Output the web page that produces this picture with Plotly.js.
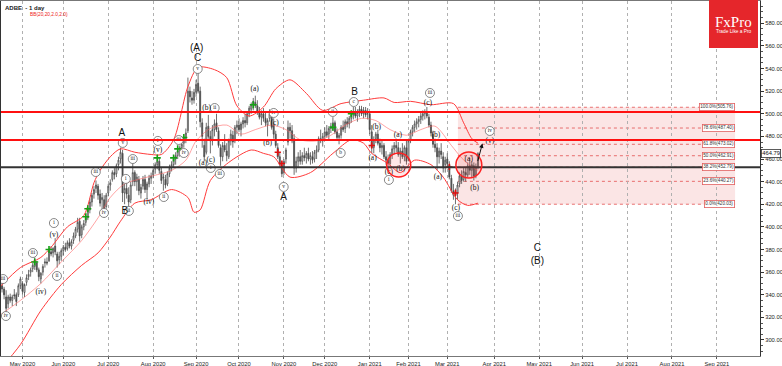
<!DOCTYPE html>
<html><head><meta charset="utf-8">
<script src="https://cdn.plot.ly/plotly-3.0.1.min.js"></script>
<style>html,body{margin:0;padding:0;background:#fff}#chart{width:782px;height:366px}</style>
</head><body><div id="chart"></div>
<script>
// ---------------- DATA ----------------
const symbolTitle = 'ADBE  - 1 day';
const indicatorTitle = 'BB(20,20,2.0,2.0)';
const firstBarDate = '2020-04-16';
const holidays = ['2020-05-25','2020-07-03','2020-09-07','2020-11-26','2020-12-25','2021-01-01','2021-01-18','2021-02-15'];

const open = [340,348,345,338,332,338,335,340,340,340,348,350,342,351,356,360,363,365,368,362,354,360,368,369,370,378,377,383,376,371,374,379,382,381,386,383,388,392,398,405,393,400,404,408,415,422,429,434,436,429,424,424,418,430,437,442,448,447,455,460,465,430,434,428,424,440,448,440,442,430,436,442,433,438,443,446,451,455,458,449,443,442,438,447,452,455,460,463,467,470,474,478,485,520,514,512,519,527,520,492,472,466,489,480,476,486,492,485,470,462,472,467,462,476,481,476,488,490,486,491,494,492,500,504,508,510,507,501,497,500,496,490,496,500,490,482,470,462,454,448,460,475,488,485,478,452,458,462,458,463,461,465,460,462,460,466,468,478,476,480,484,482,487,489,492,484,479,481,488,487,493,491,496,499,502,498,501,504,500,503,500,500,484,470,478,482,474,470,472,462,459,456,464,469,472,470,464,467,462,470,460,476,484,488,491,493,495,498,500,502,497,490,482,473,470,462,467,462,455,460,455,443,432,428,430,438,445,442,448,446,454,450,454,446,453];
const high = [352,355,347,344,340,341,340,345,342,350,356,352,350,358,362,364,368,373,370,364,360,367,372,373,381,383,382,390,378,378,381,384,386,388,390,389,395,400,408,408,402,406,410,417,425,430,436,441,438,433,430,428,430,438,442,450,452,456,462,470,468,438,440,435,440,457,450,447,445,438,445,446,440,446,448,452,457,462,461,453,447,446,449,455,458,462,466,470,472,475,481,487,532,524,520,522,530,536,524,496,478,492,499,485,490,495,500,488,473,475,482,474,478,486,485,490,494,496,493,497,500,502,507,510,514,516,512,506,503,505,502,496,504,502,496,485,474,466,458,460,470,494,492,490,482,462,466,468,466,470,467,470,466,467,468,472,480,486,483,488,490,489,492,497,494,487,483,490,494,495,497,498,502,506,506,504,507,507,506,506,505,502,490,480,484,486,478,476,474,467,464,466,472,475,478,475,470,474,472,476,478,486,490,494,496,498,501,503,504,506,500,493,485,478,474,470,474,466,462,465,458,446,438,434,440,448,450,452,452,457,461,458,457,456,466];
const low = [336,342,336,324,328,333,330,336,330,338,345,340,338,348,353,356,360,362,360,352,350,357,364,366,369,374,373,375,364,367,370,375,378,379,381,380,385,390,395,387,390,397,401,406,412,418,425,430,424,418,415,408,416,427,432,440,442,444,450,456,422,420,425,418,421,436,436,432,428,425,433,430,424,435,438,443,447,451,447,438,432,434,436,444,449,452,455,460,462,466,470,474,483,510,508,509,515,518,488,470,458,464,478,465,472,480,484,470,454,458,466,458,460,472,470,474,482,484,480,487,488,490,497,500,503,505,499,495,490,493,489,480,493,486,478,470,460,452,444,446,456,472,478,474,446,448,452,455,455,458,456,458,455,456,457,460,466,474,471,476,479,477,483,485,482,476,473,478,484,483,488,487,492,495,496,493,497,498,496,497,495,482,465,465,474,472,466,464,460,455,450,453,460,464,466,462,456,460,458,455,458,474,480,484,486,488,491,494,495,496,488,480,470,466,450,456,460,448,448,452,442,430,424,420,424,435,438,440,440,444,446,444,441,443,451];
const close = [349,345,340,328,338,335,338,339,334,348,354,343,349,355,358,362,366,370,362,356,359,365,369,368,379,376,381,378,370,374,379,382,380,386,383,387,392,398,404,392,400,403,408,415,422,428,433,437,428,421,426,416,428,436,439,448,446,454,459,466,430,434,429,422,437,448,440,444,432,435,442,433,438,443,445,450,455,458,450,441,444,437,447,452,455,460,463,467,470,473,478,483,520,515,512,519,526,520,493,480,462,488,480,476,486,491,486,472,462,472,468,463,476,482,475,488,490,486,491,494,492,500,505,508,511,507,502,497,500,496,492,494,500,488,482,472,462,455,447,458,468,488,485,476,452,458,462,458,463,461,465,460,463,459,466,468,478,476,480,484,481,487,489,492,484,479,481,488,486,493,491,496,499,502,498,501,504,500,503,499,500,486,470,477,482,474,470,472,462,459,456,464,469,472,470,464,467,462,470,458,476,484,488,491,493,495,498,500,502,498,490,483,473,470,462,467,464,452,459,456,444,432,428,431,437,445,441,449,446,454,450,455,445,453,464.79];

// Bollinger band values (bar index -> price)
const upperIdx = [0,10,20,25,33,41,46,49,54,59,66,74,79,85,92,97,105,111,116,122,129,135,142,150,158,167,178,188,193,201,211,222,227,231,234];
const upperVal = [347,364,373,382,400,410,439,450,462,469,466,464,464,477,524,541,539,532,507,498,506,522,530,518,503,509,512,514,510,511,508,509,492,478,474];
const middleIdx = [0,10,20,30,40,48,54,61,70,84,91,96,103,111,118,125,133,140,147,155,162,169,177,184,191,199,206,213,221,226,231,234];
const middleVal = [322,335,350,369,388,408,426,438,443,450,459,476,487,490,482,486,490,486,477,476,481,490,496,494,486,481,486,489,472,461,453,450];
const lowerIdx = [0,10,20,30,40,48,54,59,66,74,84,92,95,98,103,112,123,129,134,142,152,163,172,178,182,190,196,203,211,217,224,229,234];
const lowerVal = [274,296,326,349,366,377,391,405,421,424,433,426,413,415,441,457,468,465,462,444,448,465,477,474,465,456,448,459,455,444,424,419,421];

// Signal markers
const greenIdx = [17,24,42,43,77,85,87,90,124,163,172];
const greenVal = [369,380,409,416,461,461,469,479,508,488,500];
const redIdx = [136,138,182,220,223];
const redVal = [466,456,472,453,430];

// Horizontal levels
const redLevels = [501.6, 476.8];
const blackLevels = [452.8];
const lastPrice = 464.79;

// Fibonacci retracement
const fibPct = [100.0, 78.6, 61.8, 50.0, 38.2, 23.6, 0.0];
const fibVal = [505.76, 487.40, 473.02, 462.91, 452.79, 440.27, 420.03];

// Wave labels
const circText = ['iii','iv','iii','i','ii','iii','iv','v','i','ii','iii','i','ii','iii','iv','v','i','ii','iii','iv','v','ii','b','c','i','iii','iii','iv'];
const circIdx = [1.5,2.9,16.1,26.4,27.9,46.9,50.9,60.1,61.6,63.1,65.0,77.3,80.2,87.5,90.0,96.8,103.2,105.1,107.6,134.0,138.9,162.9,166.8,173.2,190.4,210.5,224.2,239.8];
const circVal = [353.9,321.2,376.9,403.4,356.6,448.5,412.3,474.2,442.4,414.1,460.0,476.0,426.4,476.8,465.3,539.6,452.1,505.1,446.8,500.7,435.3,501.6,465.3,510.4,441.5,518.4,409.6,484.8];
const parenText = ['(iv)','(v)','(iv)','(v)','(a)','(b)','(c)','(a)','(b)','(c)','(a)','(b)','(c)','(a)','(b)','(c)','(b)','(a)','(c)','(a)','(b)','(v)'];
const parenIdx = [20.0,26.4,72.9,77.3,99.3,101.2,103.2,124.7,131.0,134.5,182.4,184.4,190.4,194.8,196.2,209.5,213.4,214.4,223.2,229.5,232.4,239.8];
const parenVal = [342.4,392.8,422.0,468.0,456.5,505.1,459.2,521.9,474.2,491.9,460.9,488.3,448.5,481.3,451.2,509.5,481.3,444.1,416.7,460.0,434.4,476.0];
const bigText = ['A','B','(A)','C','A','B','C','(B)'];
const bigIdx = [59.7,61.1,96.3,96.8,138.9,173.6,263.1,263.1];
const bigVal = [483.0,413.2,557.3,548.5,426.4,518.4,380.5,369.8];

// Axis ticks
const monthTicks = ['2020-05-01','2020-06-01','2020-07-01','2020-08-03','2020-09-01','2020-10-01','2020-11-02','2020-12-01','2021-01-04','2021-02-01','2021-03-01','2021-04-01','2021-05-03','2021-06-01','2021-07-01','2021-08-02','2021-09-01'];
const monthLabels = ['May 2020','Jun 2020','Jul 2020','Aug 2020','Sep 2020','Oct 2020','Nov 2020','Dec 2020','Jan 2021','Feb 2021','Mar 2021','Apr 2021','May 2021','Jun 2021','Jul 2021','Aug 2021','Sep 2021'];
const priceTicks = [300,320,340,360,380,400,420,440,460,480,500,520,540,560,580];

// ---------------- BUILD ----------------
const days = [];
(function(){
  let t = Date.parse(firstBarDate + 'T00:00:00Z');
  while (days.length < 420) {
    const d = new Date(t); const wd = d.getUTCDay(); const s = d.toISOString().slice(0,10);
    if (wd !== 0 && wd !== 6 && holidays.indexOf(s) < 0) days.push(s);
    t += 86400000;
  }
})();
function idxDate(f){
  const i = Math.floor(f), fr = f - i;
  const t = Date.parse(days[i] + 'T00:00:00Z') + fr * 86400000;
  return new Date(t).toISOString().replace('T',' ').slice(0,19);
}
const N = close.length;
const barDates = days.slice(0, N);

const traces = [];
traces.push({type:'candlestick', x:barDates, open:open, high:high, low:low, close:close,
  increasing:{line:{color:'#4a4a4a', width:0.8}, fillcolor:'#ffffff'},
  decreasing:{line:{color:'#4a4a4a', width:0.8}, fillcolor:'#4a4a4a'},
  whiskerwidth:0, hoverinfo:'skip', showlegend:false});
traces.push({type:'scatter', mode:'lines', x:upperIdx.map(idxDate), y:upperVal, line:{color:'#ff3b3b', width:1, shape:'spline', smoothing:0.8}, hoverinfo:'skip'});
traces.push({type:'scatter', mode:'lines', x:middleIdx.map(idxDate), y:middleVal, line:{color:'rgba(255,90,90,0.55)', width:1, shape:'spline', smoothing:0.8}, hoverinfo:'skip'});
traces.push({type:'scatter', mode:'lines', x:lowerIdx.map(idxDate), y:lowerVal, line:{color:'#ff3b3b', width:1, shape:'spline', smoothing:0.8}, hoverinfo:'skip'});
traces.push({type:'scatter', mode:'markers', x:greenIdx.map(idxDate), y:greenVal, marker:{symbol:'cross-thin', size:5, color:'#14a014', line:{color:'#14a014', width:1.6}}, hoverinfo:'skip'});
traces.push({type:'scatter', mode:'markers', x:redIdx.map(idxDate), y:redVal, marker:{symbol:'cross-thin', size:4.5, color:'#e01010', line:{color:'#e01010', width:1.6}}, hoverinfo:'skip'});
traces.push({type:'scatter', mode:'markers+text', x:circIdx.map(idxDate), y:circVal, text:circText, textposition:'middle center',
  marker:{symbol:'circle', size:9, color:'#ffffff', line:{color:'#6a6a6a', width:0.8}},
  textfont:{family:'Liberation Serif', size:5.5, color:'#222'}, hoverinfo:'skip'});
traces.push({type:'scatter', mode:'text', x:parenIdx.map(idxDate), y:parenVal, text:parenText, textposition:'middle center',
  textfont:{family:'Liberation Serif', size:7.5, color:'#111'}, hoverinfo:'skip'});
traces.push({type:'scatter', mode:'text', x:bigIdx.map(idxDate), y:bigVal, text:bigText, textposition:'middle center',
  textfont:{family:'Liberation Sans', size:10, color:'#111'}, hoverinfo:'skip'});

const fibX0 = idxDate(224.2), fibX1 = idxDate(359.9);
const shapes = [];
shapes.push({type:'rect', xref:'x', yref:'y', x0:fibX0, x1:fibX1, y0:fibVal[fibVal.length-1], y1:fibVal[0], fillcolor:'rgba(240,150,150,0.25)', line:{width:0}, layer:'below'});
fibVal.forEach(v => shapes.push({type:'line', xref:'x', yref:'y', x0:fibX0, x1:fibX1, y0:v, y1:v, line:{color:'rgba(225,70,70,0.75)', width:1, dash:'dot'}, layer:'below'}));
redLevels.forEach(v => shapes.push({type:'line', xref:'paper', yref:'y', x0:0, x1:1, y0:v, y1:v, line:{color:'#ff1010', width:2}}));
blackLevels.forEach(v => shapes.push({type:'line', xref:'paper', yref:'y', x0:0, x1:1, y0:v, y1:v, line:{color:'#333333', width:2}}));
shapes.push({type:'circle', xref:'x', yref:'y', x0:idxDate(189.3), x1:idxDate(201.1), y0:444.1, y1:465.3, line:{color:'#ff2020', width:1.5}, fillcolor:'rgba(255,60,60,0.12)'});
shapes.push({type:'circle', xref:'x', yref:'y', x0:idxDate(223.2), x1:idxDate(235.9), y0:443.2, y1:466.2, line:{color:'#ff2020', width:1.5}, fillcolor:'rgba(255,60,60,0.12)'});
// logo box
shapes.push({type:'rect', xref:'paper', yref:'paper', x0:(709-1)/759, x1:(758-1)/759, y0:1-(48-1)/355, y1:1.01, fillcolor:'#e5262b', line:{width:0}});

const annotations = [];
fibPct.forEach((p,i) => annotations.push({xref:'x', yref:'y', x:fibX1, y:fibVal[i], xanchor:'right', yanchor:'middle', showarrow:false,
  text:p.toFixed(1)+'%('+fibVal[i].toFixed(2)+')', font:{family:'Liberation Sans', size:4.6, color:'#333'},
  bgcolor:'#ffffff', bordercolor:'#e06060', borderwidth:0.8, borderpad:0.5}));
annotations.push({xref:'x', yref:'y', x:idxDate(236.2), y:473.8, ax:-5, ay:19, showarrow:true, arrowhead:2, arrowsize:0.9, arrowwidth:1, arrowcolor:'#111', text:''});
annotations.push({xref:'paper', yref:'y', x:1, y:lastPrice, xanchor:'left', yanchor:'middle', xshift:1, showarrow:false, text:lastPrice.toFixed(2),
  font:{family:'Liberation Sans', size:5.8, color:'#111'}, bgcolor:'#ffffff', bordercolor:'#333', borderwidth:0.8, borderpad:0.5});
annotations.push({xref:'paper', yref:'paper', x:0.003, y:0.995, xanchor:'left', yanchor:'top', showarrow:false, text:'<b>'+symbolTitle+'</b>',
  font:{family:'Liberation Sans', size:6, color:'#222'}});
annotations.push({xref:'paper', yref:'paper', x:0.036, y:0.975, xanchor:'left', yanchor:'top', showarrow:false, text:indicatorTitle,
  font:{family:'Liberation Sans', size:4.8, color:'#ee2020'}});
annotations.push({xref:'paper', yref:'paper', x:(733.5-1)/759, y:1-(22-1)/355, xanchor:'center', yanchor:'middle', showarrow:false, text:'FxPro',
  font:{family:'Liberation Serif', size:15, color:'#ffffff'}});
annotations.push({xref:'paper', yref:'paper', x:(733.5-1)/759, y:1-(32-1)/355, xanchor:'center', yanchor:'middle', showarrow:false, text:'Trade Like a Pro',
  font:{family:'Liberation Sans', size:4.8, color:'#ffffff'}});

const layout = {
  width:782, height:366, margin:{l:1, r:22, t:1, b:10, pad:0},
  paper_bgcolor:'#ffffff', plot_bgcolor:'#ffffff', showlegend:false,
  xaxis:{type:'date', range:[idxDate(0.49), idxDate(372.1)],
    rangebreaks:[{bounds:['sat','mon']}, {values:holidays}],
    rangeslider:{visible:false}, tickmode:'array', tickvals:monthTicks, ticktext:monthLabels,
    ticks:'outside', ticklen:2, tickcolor:'#555', tickfont:{family:'Liberation Sans', size:5.8, color:'#222'},
    showgrid:true, gridcolor:'#b0b0b0', griddash:'dot', gridwidth:1,
    showline:true, linecolor:'#777', mirror:true, zeroline:false, fixedrange:true},
  yaxis:{range:[285.85, 599.7], side:'right', tickmode:'array', tickvals:priceTicks, ticktext:priceTicks.map(v=>v.toFixed(2)),
    ticks:'outside', ticklen:3, tickcolor:'#333', tickfont:{family:'Liberation Sans', size:5.8, color:'#222'},
    minor:{ticks:'outside', ticklen:1.5, dtick:5, tickcolor:'#555', showgrid:false},
    showgrid:false, showline:true, linecolor:'#333', mirror:true, zeroline:false, fixedrange:true},
  shapes:shapes, annotations:annotations
};

Plotly.newPlot('chart', traces, layout, {displayModeBar:false, staticPlot:true});
</script></body></html>
